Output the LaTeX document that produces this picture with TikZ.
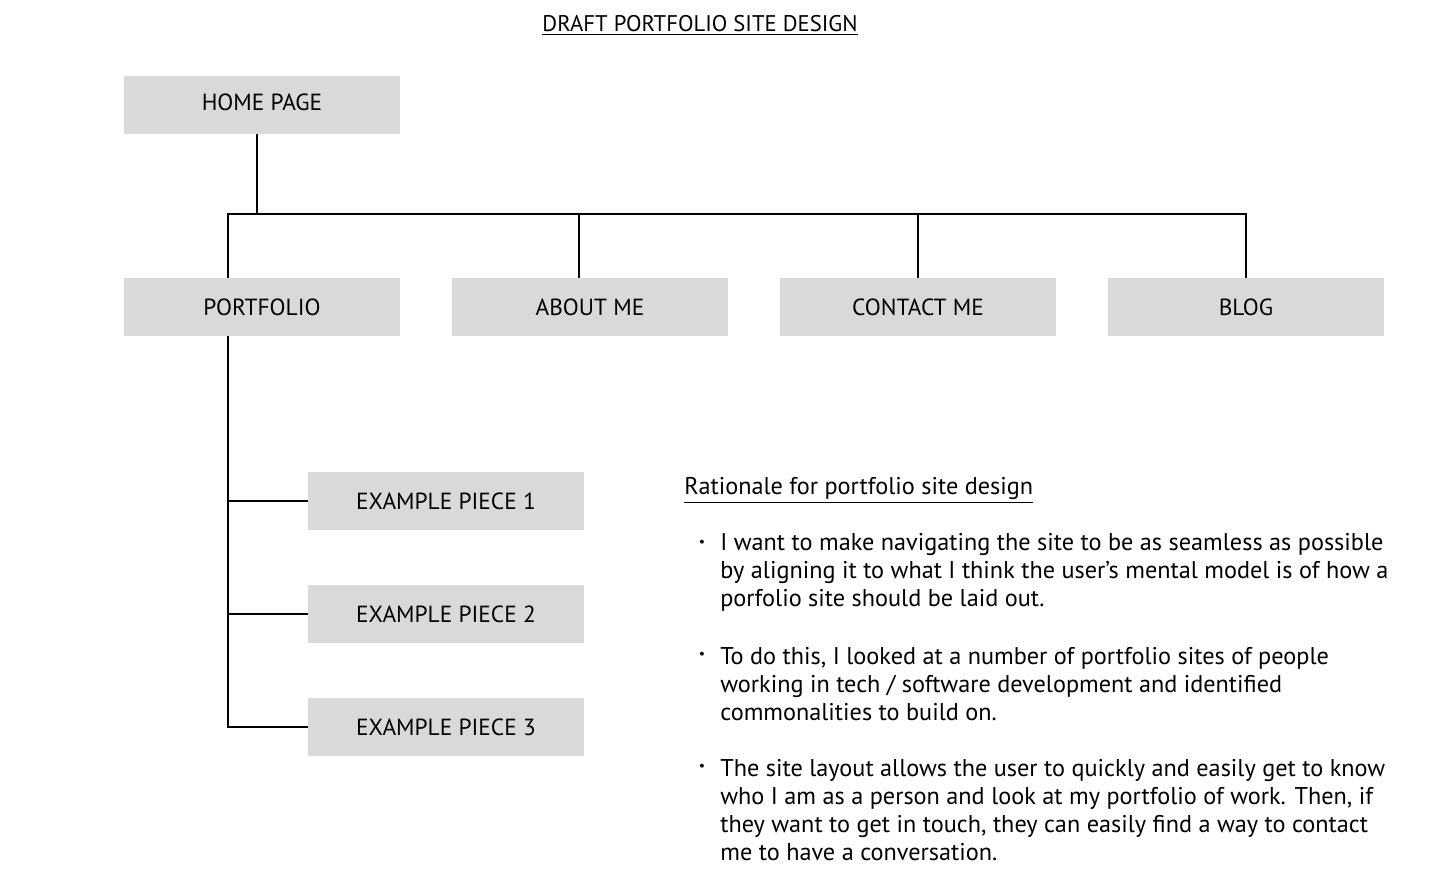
\documentclass[tikz,border=0pt]{standalone}
\usepackage{fontspec}
\setmainfont{PT Sans}
\usepackage{xcolor}
\definecolor{boxgray}{HTML}{D9D9D9}
\usepackage{tikz}

\begin{document}
\begin{tikzpicture}[x=0.02cm, y=-0.02cm,
        page/.style={fill=boxgray, minimum width=5.52cm, minimum height=1.16cm, font=\fontsize{13.3}{15}\selectfont},
        link/.style={black, line width=0.6pt},
        note/.style={anchor=west, inner sep=0pt, align=left, font=\fontsize{13.8}{15.9}\selectfont},
        dot/.style={inner sep=0pt, font=\fontsize{8}{8}\selectfont}]
        \useasboundingbox (0,0) rectangle (1438,870);
        \node (title) at (700,25) {\fontsize{12.9}{14}\selectfont\underline{DRAFT PORTFOLIO SITE DESIGN}};
        \node [page] (home) at (262,105) {\raisebox{3pt}{HOME PAGE}};
        \node [page] (portfolio) at (262,307) {PORTFOLIO};
        \node [page] (about) at (590,307) {ABOUT ME};
        \node [page] (contact) at (918,307) {CONTACT ME};
        \node [page] (blog) at (1246,307) {BLOG};
        \node [page] (piece1) at (446,501) {EXAMPLE PIECE 1};
        \node [page] (piece2) at (446,614) {EXAMPLE PIECE 2};
        \node [page] (piece3) at (446,727) {EXAMPLE PIECE 3};
        \coordinate (bar) at (257,214);
        \draw [link] (home.south -| bar) -- (bar);
        \draw [link] (portfolio.north -| 228,0) |- (blog.north |- bar) -- (blog.north);
        \draw [link] (about.north -| 579,0) -- (579,214);
        \draw [link] (contact.north) -- (contact.north |- bar);
        \draw [link] (portfolio.south -| 228,0) |- (piece3.west);
        \draw [link] (228,0 |- piece1.west) -- (piece1.west);
        \draw [link] (228,0 |- piece2.west) -- (piece2.west);
        % rationale
        \node [note] (why) at (684,490) {\underline{Rationale for portfolio site design}};
        \node [dot] (dot1) at (702,543) {\textbullet};
        \node [dot] (dot2) at (702,655) {\textbullet};
        \node [dot] (dot3) at (702,767) {\textbullet};
        \node [note] (point1) at (720,572) {I want to make navigating the site to be as seamless as possible\\
            by aligning it to what I think the user’s mental model is of how a\\
            porfolio site should be laid out.};
        \node [note] (point2) at (720,684) {To do this, I looked at a number of portfolio sites of people\\
            working in tech / software development and identified\\
            commonalities to build on.};
        \node [note] (point3) at (720,810) {The site layout allows the user to quickly and easily get to know\\
            who I am as a person and look at my portfolio of work. Then, if\\
            they want to get in touch, they can easily find a way to contact\\
            me to have a conversation.};
\end{tikzpicture}
\end{document}
